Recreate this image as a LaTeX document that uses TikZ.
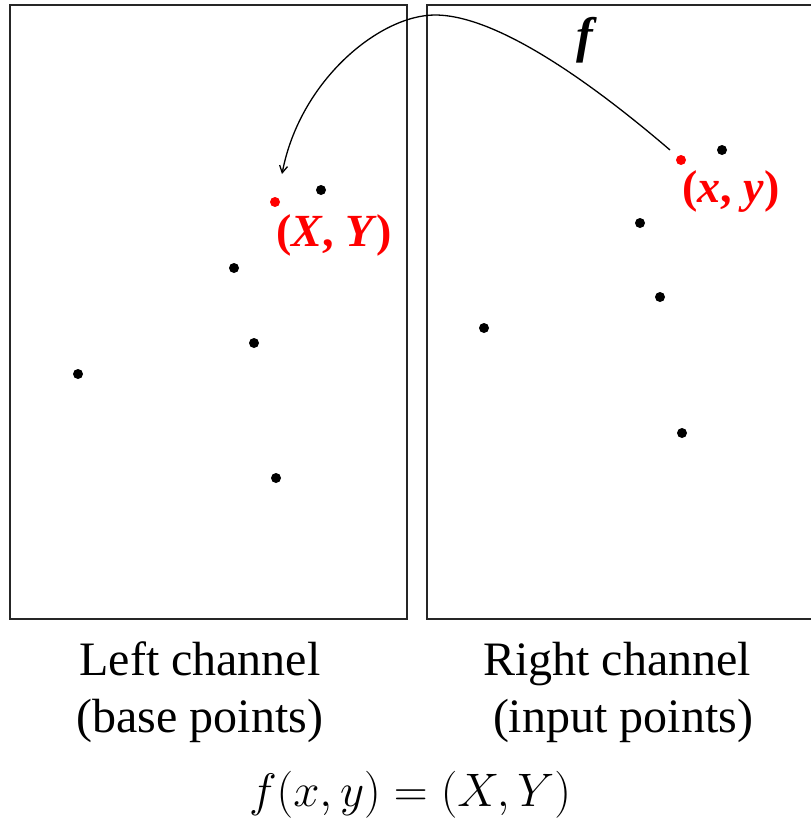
\RequirePackage{fix-cm}
\documentclass[tikz,border=0pt]{standalone}
\usepackage{fontspec}
\setmainfont{Liberation Serif}
\usetikzlibrary{arrows.meta}
\tikzset{
  frame/.style={draw=black!85, line width=2pt},
  dot/.style={circle, fill=black, inner sep=0pt, minimum size=10pt},
  rdot/.style={circle, fill=red, inner sep=0pt, minimum size=10pt},
  lbl/.style={font=\fontsize{48}{57}\selectfont, align=center, inner sep=0pt},
  rlbl/.style={text=red, font=\fontsize{46}{50}\selectfont\bfseries, inner sep=0pt}
}
\begin{document}
\begin{tikzpicture}[x=1pt,y=-1pt]
\useasboundingbox (0,0) rectangle (811,822);
% boxes
\draw[frame] (10,5) rectangle (407,619);
\draw[frame] (811,5) -- (427,5) -- (427,619) -- (811,619);
% left points
\node[dot] (l1) at (321,190) {};
\node[dot] (l2) at (234,268) {};
\node[dot] (l3) at (254,343) {};
\node[dot] (l4) at (78,374) {};
\node[dot] (l5) at (276,478) {};
\node[rdot] (lr) at (275,202) {};
% right points
\node[dot] (r1) at (722,150) {};
\node[dot] (r2) at (640,223) {};
\node[dot] (r3) at (660,297) {};
\node[dot] (r4) at (484,328) {};
\node[dot] (r5) at (682,433) {};
\node[rdot] (rr) at (681,160) {};
% labels
\node[rlbl, anchor=north west] (XY) at (276,214) {(\textit{X}, \textit{Y})};
\node[rlbl, anchor=north west] (xy) at (682,170) {(\textit{x}, \textit{y})};
\node[font=\fontsize{50}{50}\selectfont\bfseries\itshape, inner sep=0pt] (f) at (585,40) {f};
% arrow
\coordinate (s) at (670,150);
\coordinate (pk) at (435,15);
\coordinate (e) at (282,174);
\draw[line width=1.3pt, -{Straight Barb[length=7pt,width=8pt]}]
  (s) .. controls (600,90) and (500,15) .. (pk)
      .. controls (380,15) and (300,80) .. (e);
% captions
\node[lbl] (lc) at (200,692) {Left channel\\(base points)};
\node[lbl] (rc) at (617,692) {Right channel\\\ (input points)};
\node[font=\fontsize{47}{50}\selectfont, inner sep=0pt, anchor=base] (eq) at (410,806) {$f(x,y)=(X,Y)$};
\end{tikzpicture}
\end{document}
